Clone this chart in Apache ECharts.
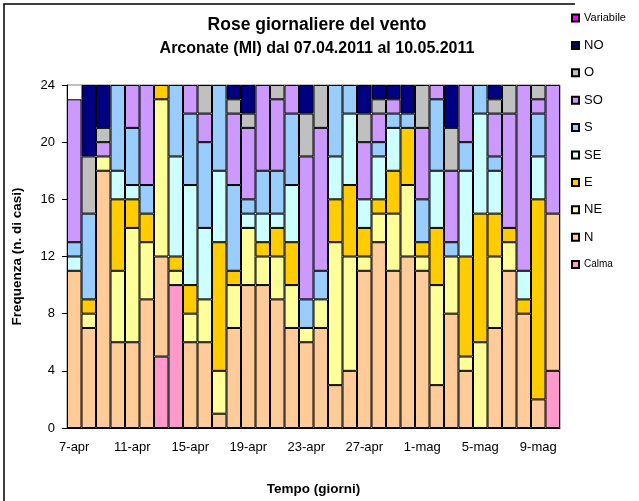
<!DOCTYPE html>
<html>
<head>
<meta charset="utf-8">
<script src="https://cdn.jsdelivr.net/npm/echarts@6/dist/echarts.min.js"></script>
<style>
  html, body { margin: 0; padding: 0; background: #fff; }
  #main { width: 639px; height: 501px; }
</style>
</head>
<body>
<div id="main"></div>
<script>
var giorni = ['7-apr','8-apr','9-apr','10-apr','11-apr','12-apr','13-apr','14-apr','15-apr','16-apr',
  '17-apr','18-apr','19-apr','20-apr','21-apr','22-apr','23-apr','24-apr','25-apr','26-apr',
  '27-apr','28-apr','29-apr','30-apr','1-mag','2-mag','3-mag','4-mag','5-mag','6-mag',
  '7-mag','8-mag','9-mag','10-mag'];

// ore per direzione, dal basso verso l'alto
var calma     = [0,0,0,0,0,0,5,10,0,0,0,0,0,0,0,0,0,0,0,0,0,0,0,0,0,0,0,0,0,0,0,0,0,4];
var nord      = [11,7,18,6,6,9,7,0,6,6,1,7,10,10,9,7,6,7,3,4,11,13,11,12,11,3,8,4,0,7,11,8,2,11];
var nordEst   = [0,1,1,5,8,4,11,1,2,3,3,3,4,2,3,3,1,2,10,8,1,2,4,5,1,7,4,1,6,5,2,0,0,0];
var est       = [0,1,0,5,2,2,1,1,2,0,9,1,0,1,2,3,0,0,3,5,2,1,3,4,1,4,0,7,9,3,1,1,14,0];
var sudEst    = [1,0,0,2,1,0,0,7,7,5,5,0,1,2,1,4,0,0,3,5,2,3,3,0,0,4,0,6,7,3,0,2,3,0];
var sud       = [1,6,0,6,4,2,0,5,5,6,6,6,1,3,3,5,2,2,5,2,0,1,1,1,3,5,1,2,2,1,0,0,3,0];
var sudOvest  = [10,0,1,0,3,7,0,0,2,2,0,5,5,6,5,2,10,10,0,0,4,2,1,0,5,1,5,4,0,3,8,13,1,9];
var ovest     = [0,4,1,0,0,0,0,0,0,2,0,1,1,0,1,0,3,3,0,0,2,1,0,0,3,0,3,0,0,1,2,0,1,0];
var nordOvest = [0,5,3,0,0,0,0,0,0,0,0,1,2,0,0,0,2,0,0,0,2,1,1,2,0,0,3,0,0,1,0,0,0,0];
var variabile = [0,0,0,0,0,0,0,0,0,0,0,0,0,0,0,0,0,0,0,0,0,0,0,0,0,0,0,0,0,0,0,0,0,0];

var nomi   = ['Calma','N','NE','E','SE','S','SO','O','NO','Variabile'];
var valori = [calma, nord, nordEst, est, sudEst, sud, sudOvest, ovest, nordOvest, variabile];
var colori = ['#FF99CC','#FFCC99','#FFFF99','#FFCC00','#CCFFFF','#99CCFF','#CC99FF','#C0C0C0','#000080','#FF00FF'];

var font = 'Liberation Sans, Arial, sans-serif';

var series = [];
for (var i = 0; i < nomi.length; i++) {
  series.push({
    name: nomi[i],
    type: 'bar',
    stack: 'ore',
    barCategoryGap: 0,
    data: valori[i].map(function (v) { return v === 0 ? '-' : v; }),
    itemStyle: { color: colori[i], borderColor: '#000', borderWidth: 1 },
    emphasis: { disabled: true }
  });
}

// legenda dall'alto verso il basso
var legenda = nomi.slice().reverse().map(function (n) {
  var fs = 13;
  if (n === 'Variabile') fs = 11;
  if (n === 'Calma') fs = 10;
  return { name: n, textStyle: { fontSize: fs, lineHeight: 14 } };
});

var myChart = echarts.init(document.getElementById('main'));
var option = {
  backgroundColor: '#fff',
  animation: false,
  title: {
    text: 'Rose giornaliere del vento',
    subtext: 'Arconate (MI) dal 07.04.2011 al 10.05.2011',
    left: 312,
    textAlign: 'center',
    top: 11,
    itemGap: 7,
    textStyle: { fontFamily: font, fontSize: 17.5, fontWeight: 'bold', color: '#000' },
    subtextStyle: { fontFamily: font, fontSize: 16, fontWeight: 'bold', color: '#000' }
  },
  legend: {
    orient: 'vertical',
    left: 566,
    top: 6,
    itemWidth: 7,
    itemHeight: 7,
    itemGap: 13.4,
    icon: 'rect',
    selectedMode: false,
    textStyle: { fontFamily: font, color: '#000' },
    data: legenda
  },
  graphic: [{
    type: 'polyline',
    shape: { points: [[4, 501], [4, 4], [575, 4]] },
    style: { stroke: '#000', lineWidth: 1.5, fill: null },
    silent: true
  }],
  grid: {
    left: 67, right: 79, top: 85, bottom: 73,
    show: true, borderColor: '#808080', borderWidth: 1,
    outerBoundsMode: 'none',
    containLabel: false
  },
  xAxis: {
    type: 'category',
    data: giorni,
    boundaryGap: true,
    name: 'Tempo (giorni)',
    nameLocation: 'middle',
    nameGap: 54,
    nameTextStyle: { fontFamily: font, fontSize: 13.5, fontWeight: 'bold', color: '#000' },
    axisLine: { lineStyle: { color: '#000', width: 1 } },
    axisTick: { interval: 3, length: 5, lineStyle: { color: '#000' } },
    axisLabel: { interval: 3, margin: 13, fontFamily: font, fontSize: 13, color: '#000' },
    splitLine: { show: false }
  },
  yAxis: {
    type: 'value',
    min: 0, max: 24, interval: 4,
    name: 'Frequenza (n. di casi)',
    nameLocation: 'middle',
    nameGap: 43,
    nameTextStyle: { fontFamily: font, fontSize: 13.5, fontWeight: 'bold', color: '#000' },
    axisLine: { show: true, lineStyle: { color: '#000', width: 1 } },
    axisTick: { show: true, length: 5, lineStyle: { color: '#000' } },
    axisLabel: { margin: 12, fontFamily: font, fontSize: 13, color: '#000' },
    splitLine: { show: false }
  },
  series: series
};
myChart.setOption(option);
</script>
</body>
</html>
